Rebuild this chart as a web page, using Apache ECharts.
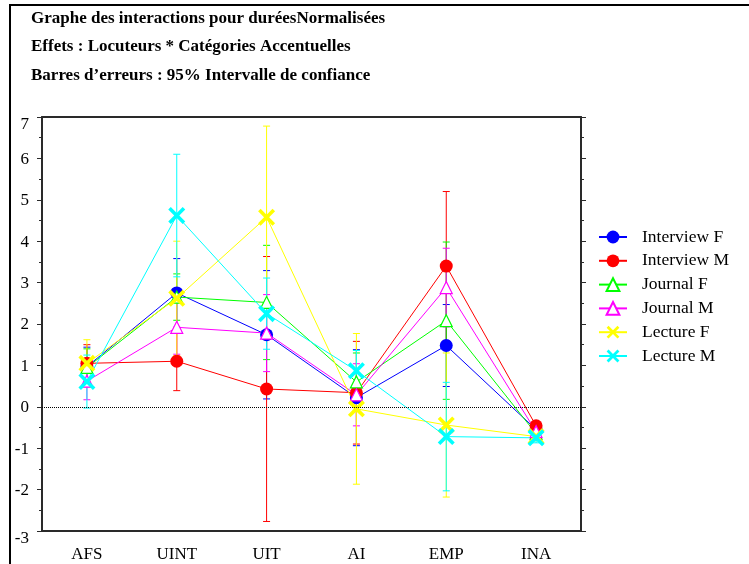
<!DOCTYPE html>
<html>
<head>
<meta charset="utf-8">
<script src="https://cdn.jsdelivr.net/npm/echarts@6/dist/echarts.min.js"></script>
<style>
html,body{margin:0;padding:0;background:#fff;}
#chart{width:749px;height:564px;}
</style>
</head>
<body>
<div id="chart"></div>
<script>
// ---- data ----
var categories = ['AFS', 'UINT', 'UIT', 'AI', 'EMP', 'INA'];
var seriesNames = ['Interview F', 'Interview M', 'Journal F', 'Journal M', 'Lecture F', 'Lecture M'];
var interviewF = [0.97, 2.75, 1.74, 0.22, 1.48, -0.55];
var interviewM = [1.05, 1.10, 0.43, 0.34, 3.40, -0.46];
var journalF   = [0.95, 2.65, 2.52, 0.60, 2.08, -0.65];
var journalM   = [0.62, 1.92, 1.78, 0.29, 2.88, -0.60];
var lectureF   = [1.05, 2.62, 4.58, -0.05, -0.44, -0.72];
var lectureM   = [0.61, 4.62, 2.25, 0.87, -0.72, -0.75];
// half-width of the 95% confidence interval
var interviewFErr = [0.47, 0.83, 1.55, 1.16, 0.99, 0.10];
var interviewMErr = [0.45, 0.71, 3.20, 1.24, 1.80, 0.10];
var journalFErr   = [0.45, 0.56, 1.38, 0.70, 1.90, 0.12];
var journalMErr   = [0.45, 0.65, 0.93, 0.75, 0.95, 0.10];
var lectureFErr   = [0.57, 1.38, 2.20, 1.82, 1.74, 0.10];
var lectureMErr   = [0.64, 1.48, 0.86, 0.49, 1.31, 0.12];
var yTicks = [-3, -2, -1, 0, 1, 2, 3, 4, 5, 6, 7];
var titleLines = [
  'Graphe des interactions pour duréesNormalisées',
  'Effets : Locuteurs * Catégories Accentuelles',
  'Barres d\u2019erreurs : 95% Intervalle de confiance'
];

// ---- styling ----
var means = [interviewF, interviewM, journalF, journalM, lectureF, lectureM];
var errs = [interviewFErr, interviewMErr, journalFErr, journalMErr, lectureFErr, lectureMErr];
var colors = ['#0000ff', '#ff0000', '#00ff00', '#ff00ff', '#ffff00', '#00ffff'];
var xPath = 'path://M0,1.5 L1.5,0 L5,3.5 L8.5,0 L10,1.5 L6.5,5 L10,8.5 L8.5,10 L5,6.5 L1.5,10 L0,8.5 L3.5,5 Z';
var symbols = ['circle', 'circle', 'triangle', 'triangle', xPath, xPath];
var symSizes = [13, 13, 12, 12, 17, 17];
var hollow = [false, false, true, true, false, false];
var FONT = 'Liberation Serif';

var chart = echarts.init(document.getElementById('chart'), null, {renderer: 'canvas'});

var series = [];
// error bars first (below)
means.forEach(function (m, s) {
  var data = m.map(function (v, i) { return [i, v - errs[s][i], v + errs[s][i]]; });
  series.push({
    type: 'custom',
    name: seriesNames[s] + ' IC',
    silent: true,
    z: 2,
    data: data,
    encode: {x: 0, y: [1, 2]},
    renderItem: function (params, api) {
      var i = api.value(0);
      var lo = api.coord([i, api.value(1)]);
      var hi = api.coord([i, api.value(2)]);
      var w = 3.5;
      var st = {stroke: colors[s], lineWidth: 1};
      return {
        type: 'group',
        children: [
          {type: 'line', shape: {x1: lo[0], y1: lo[1], x2: hi[0], y2: hi[1]}, style: st},
          {type: 'line', shape: {x1: hi[0] - w, y1: hi[1], x2: hi[0] + w, y2: hi[1]}, style: st},
          {type: 'line', shape: {x1: lo[0] - w, y1: lo[1], x2: lo[0] + w, y2: lo[1]}, style: st}
        ]
      };
    }
  });
});
means.forEach(function (m, s) {
  var ser = {
    type: 'line',
    name: seriesNames[s],
    data: m,
    z: 3,
    symbol: symbols[s],
    symbolSize: symSizes[s],
    showAllSymbol: true,
    lineStyle: {color: colors[s], width: 1},
    itemStyle: hollow[s]
      ? {color: '#ffffff', borderColor: colors[s], borderWidth: 1.2}
      : {color: colors[s], borderWidth: 0},
    emphasis: {disabled: true},
    animation: false
  };
  if (s === 0) {
    ser.markLine = {
      silent: true,
      symbol: 'none',
      label: {show: false},
      lineStyle: {color: '#000', type: 'dotted', width: 1},
      data: [{yAxis: 0}],
      animation: false
    };
  }
  series.push(ser);
});

var axisLineStyle = {color: '#2a2a2a', width: 2};
var tickStyle = {color: '#2a2a2a', width: 1};

var option = {
  backgroundColor: '#ffffff',
  animation: false,
  color: colors,
  title: {
    text: titleLines.join('\n'),
    left: 31,
    top: 4,
    padding: 0,
    textStyle: {fontFamily: FONT, fontWeight: 'bold', fontSize: 17, color: '#000', lineHeight: 28.5}
  },
  legend: {
    data: seriesNames,
    orient: 'vertical',
    left: 598,
    top: 228,
    itemWidth: 28,
    itemHeight: 16,
    itemGap: 5.8,
    padding: 0,
    selectedMode: false,
    textStyle: {fontFamily: FONT, fontSize: 17.5, color: '#000', padding: [0, 0, 0, 10]}
  },
  grid: {left: 42, right: 168, top: 117, bottom: 33, containLabel: false},
  xAxis: [
    {
      type: 'category',
      data: categories,
      boundaryGap: true,
      position: 'bottom',
      axisLine: {onZero: false, lineStyle: axisLineStyle},
      axisTick: {alignWithLabel: true, length: 4, lineStyle: tickStyle},
      axisLabel: {fontFamily: FONT, fontSize: 17, color: '#000', margin: 15},
      splitLine: {show: false}
    },
    {
      type: 'category',
      data: categories,
      boundaryGap: true,
      position: 'top',
      axisLine: {onZero: false, lineStyle: axisLineStyle},
      axisTick: {alignWithLabel: true, length: 4, lineStyle: tickStyle},
      axisLabel: {show: false},
      splitLine: {show: false}
    }
  ],
  yAxis: [
    {
      type: 'value',
      min: yTicks[0],
      max: yTicks[yTicks.length - 1],
      interval: 1,
      position: 'left',
      axisLine: {show: true, onZero: false, lineStyle: axisLineStyle},
      axisTick: {show: true, length: 5, lineStyle: tickStyle},
      minorTick: {show: true, splitNumber: 2, length: 3, lineStyle: tickStyle},
      axisLabel: {
        fontFamily: FONT, fontSize: 17, color: '#000', margin: 13,
        formatter: function (v) {
          if (v === yTicks[0] || v === yTicks[yTicks.length - 1]) { return '{e|' + v + '}'; }
          return '{n|' + v + '}';
        },
        rich: {
          e: {fontFamily: FONT, fontSize: 17, color: '#000', padding: [15, 0, 0, 0]},
          n: {fontFamily: FONT, fontSize: 17, color: '#000', padding: [2, 0, 0, 0]}
        }
      },
      splitLine: {show: false}
    },
    {
      type: 'value',
      min: yTicks[0],
      max: yTicks[yTicks.length - 1],
      interval: 1,
      position: 'right',
      axisLine: {show: true, onZero: false, lineStyle: axisLineStyle},
      axisTick: {show: true, length: 5, lineStyle: tickStyle},
      minorTick: {show: true, splitNumber: 2, length: 3, lineStyle: tickStyle},
      axisLabel: {show: false},
      splitLine: {show: false}
    }
  ],
  graphic: [
    {type: 'line', shape: {x1: 10, y1: 5, x2: 749, y2: 5}, style: {stroke: '#000', lineWidth: 2}, silent: true},
    {type: 'line', shape: {x1: 10, y1: 4, x2: 10, y2: 564}, style: {stroke: '#000', lineWidth: 2}, silent: true}
  ],
  series: series
};
chart.setOption(option);
</script>
</body>
</html>
